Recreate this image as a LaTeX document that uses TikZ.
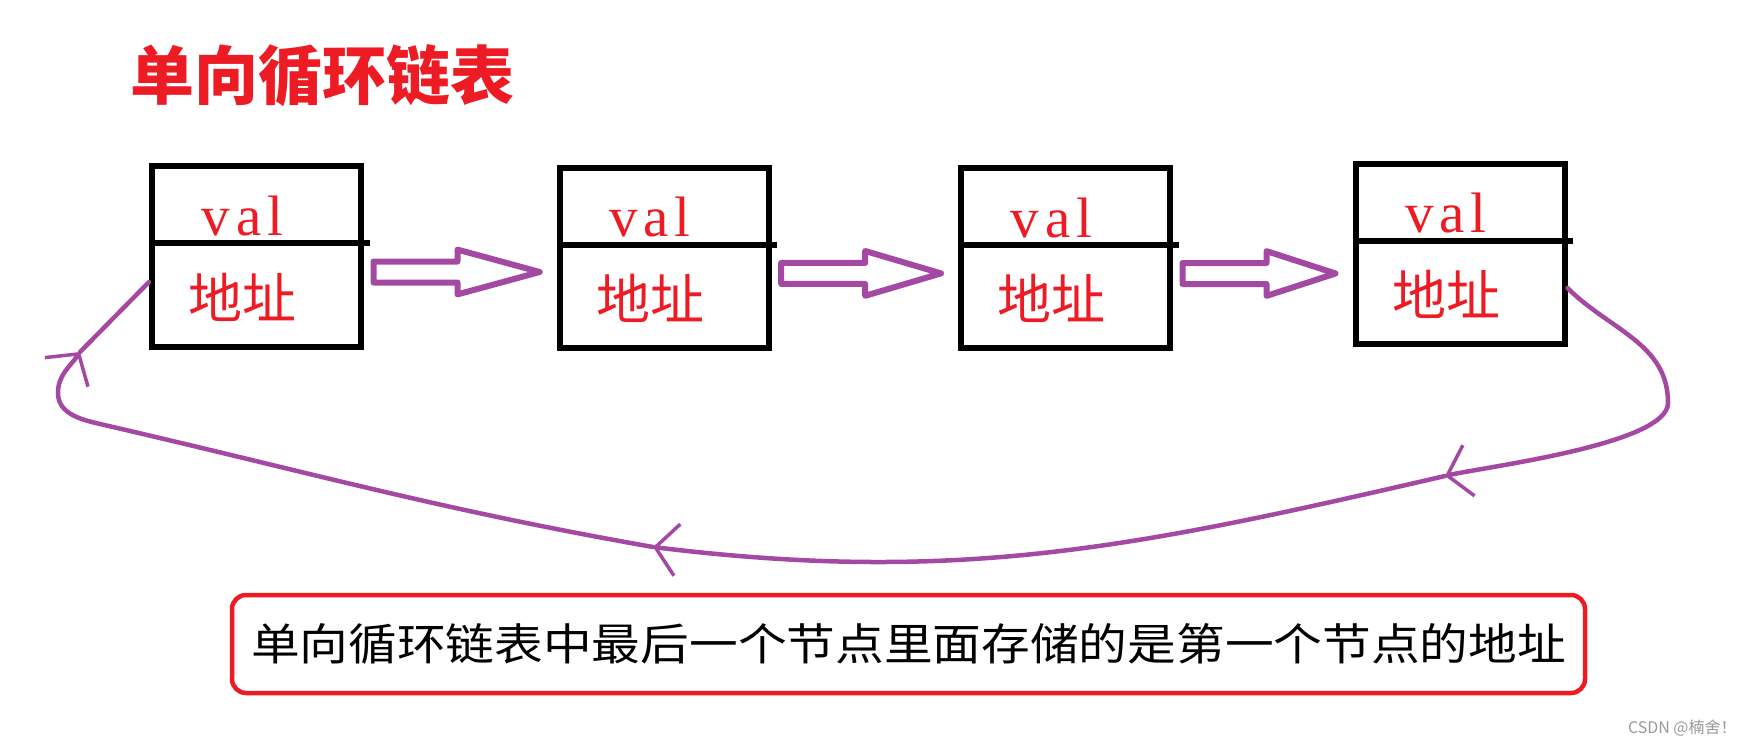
\documentclass[tikz,border=0pt]{standalone}
\usepackage{graphicx}
\usepackage{fontspec}
\setmainfont{Liberation Serif}
\newfontfamily\cjk{Noto Sans CJK SC}
\newfontfamily\valfont[LetterSpace=10]{Liberation Serif}
\usetikzlibrary{arrows.meta, calc}
\definecolor{purp}{HTML}{A349A4}
\definecolor{rojo}{HTML}{ED1C24}

\begin{document}
\begin{tikzpicture}[
    x=0.5pt, y=0.5pt,
    >={Straight Barb[length=11pt, width=26pt, line width=1.75pt]},
    cell/.style={draw, line width=3pt, minimum width=104.5pt, minimum height=90pt, inner sep=0pt},
    valtxt/.style={text=rojo, font=\valfont\fontsize{28.5pt}{30pt}\selectfont, inner sep=0pt},
    adr/.style={text=rojo, font=\cjk\fontsize{27pt}{30pt}\selectfont, inner sep=0pt},
    blk/.style={draw=purp, line width=3pt, line join=round},
    ring/.style={draw=purp, line width=2.25pt, line cap=round},
]
    \useasboundingbox (0,0) rectangle (1749,-743);

    % Titulo
    \node[text=rojo, font=\cjk\bfseries\fontsize{32pt}{36pt}\selectfont] (title) at (322,-76) {单向循环链表};

    % Nodos de la lista
    \node[cell] (n1) at (256.5,-256.5) {};
    \node[cell] (n2) at (664.2,-257.9) {};
    \node[cell] (n3) at (1065.5,-258)  {};
    \node[cell] (n4) at (1460,-254)    {};

    \foreach \i in {1,...,4}{
        \draw[line width=3pt] ([yshift=6.5pt]n\i.west) -- ([shift={(2.75pt,6.5pt)}]n\i.east);
        \node[valtxt, anchor=base] (v\i) at ([shift={(-7pt,10.5pt)}]n\i.center) {val};
        \node[adr] (d\i) at ([shift={(-7pt,-20.25pt)}]n\i.center) {地址};
    }

    % Flechas huecas
    \foreach \a/\b in {n1/n2, n2/n3, n3/n4}{
        \coordinate (t) at ([yshift=-7.75pt]\a.east);
        \draw[blk] ([shift={(4.75pt,5.25pt)}]t) -- ([shift={(46.75pt,5.25pt)}]t)
            -- ([shift={(46.75pt,11.2pt)}]t) -- ($(\b.west |- t)+(-8.5pt,0pt)$)
            -- ([shift={(46.75pt,-11.2pt)}]t) -- ([shift={(46.75pt,-5.25pt)}]t)
            -- ([shift={(4.75pt,-5.25pt)}]t) -- cycle;
    }

    % Vuelta del ultimo al primero
    \coordinate (r)  at (1668,-403);
    \coordinate (m1) at (1445,-476);
    \coordinate (m2) at (653,-547);
    \coordinate (p)  at (100,-424);
    \coordinate (l)  at (58,-393);
    \coordinate (m3) at (80,-352);

    \draw[ring, ->] ([yshift=-17pt]n4.east) to[out=-45, in=90] (r)
        to[out=-90, in=13, looseness=0.45] (m1);
    \draw[ring, ->] (m1) to[out=193, in=-7] (m2);
    \draw[ring, ->] (m2) to[out=170, in=-13] (p) to[out=167, in=-90] (l)
        to[out=90, in=236] (m3);
    \draw[ring] (m3) -- ([yshift=-12.75pt]n1.west);

    % Nota
    \node[draw=rojo, line width=2.25pt, rounded corners=7pt, minimum width=676.5pt, minimum height=49pt,
        inner sep=0pt, font=\cjk\fontsize{27pt}{30pt}\selectfont] (note) at (908.5,-644)
        {\scalebox{1}[0.9]{\resizebox{657.5pt}{!}{单向循环链表中最后一个节点里面存储的是第一个节点的地址}}};

    \node[anchor=base east, text=black!40, font=\cjk\fontsize{8pt}{10pt}\selectfont, inner sep=0pt] (wm) at (1737,-733) {CSDN @楠舍！};

\end{tikzpicture}
\end{document}
